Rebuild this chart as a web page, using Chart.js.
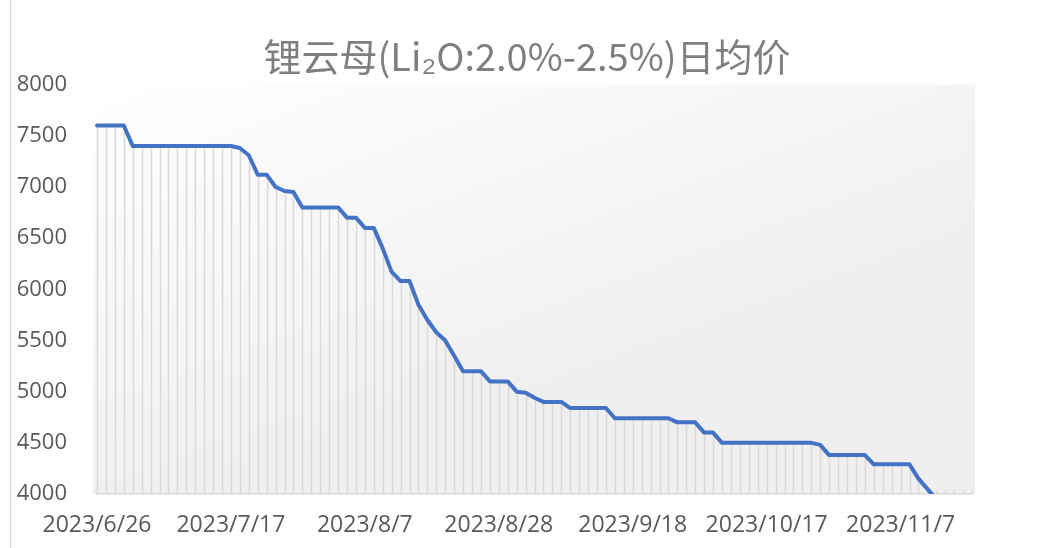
<!DOCTYPE html>
<html>
<head>
<meta charset="utf-8">
<script src="https://cdn.jsdelivr.net/npm/chart.js@4"></script>
<style>
  html, body { margin: 0; padding: 0; background: #fff; }
  #wrap { width: 1038px; height: 548px; position: relative; }
</style>
</head>
<body>
<div id="wrap"><canvas id="priceChart" width="1038" height="548"></canvas></div>
<script>
// trading days (weekdays, national holiday skipped)
const dates = [
  '2023/6/26', '2023/6/27', '2023/6/28', '2023/6/29', '2023/6/30',
  '2023/7/3', '2023/7/4', '2023/7/5', '2023/7/6', '2023/7/7',
  '2023/7/10', '2023/7/11', '2023/7/12', '2023/7/13', '2023/7/14',
  '2023/7/17', '2023/7/18', '2023/7/19', '2023/7/20', '2023/7/21',
  '2023/7/24', '2023/7/25', '2023/7/26', '2023/7/27', '2023/7/28',
  '2023/7/31', '2023/8/1', '2023/8/2', '2023/8/3', '2023/8/4',
  '2023/8/7', '2023/8/8', '2023/8/9', '2023/8/10', '2023/8/11',
  '2023/8/14', '2023/8/15', '2023/8/16', '2023/8/17', '2023/8/18',
  '2023/8/21', '2023/8/22', '2023/8/23', '2023/8/24', '2023/8/25',
  '2023/8/28', '2023/8/29', '2023/8/30', '2023/8/31', '2023/9/1',
  '2023/9/4', '2023/9/5', '2023/9/6', '2023/9/7', '2023/9/8',
  '2023/9/11', '2023/9/12', '2023/9/13', '2023/9/14', '2023/9/15',
  '2023/9/18', '2023/9/19', '2023/9/20', '2023/9/21', '2023/9/22',
  '2023/9/25', '2023/9/26', '2023/9/27', '2023/9/28',
  '2023/10/9', '2023/10/10', '2023/10/11', '2023/10/12', '2023/10/13',
  '2023/10/16', '2023/10/17', '2023/10/18', '2023/10/19', '2023/10/20',
  '2023/10/23', '2023/10/24', '2023/10/25', '2023/10/26', '2023/10/27',
  '2023/10/30', '2023/10/31', '2023/11/1', '2023/11/2', '2023/11/3',
  '2023/11/6', '2023/11/7', '2023/11/8', '2023/11/9', '2023/11/10',
  '2023/11/13', '2023/11/14', '2023/11/15', '2023/11/16', '2023/11/17'
];

const prices = [
  7600, 7600, 7600, 7600, 7400, 7400, 7400, 7400, 7400, 7400,
  7400, 7400, 7400, 7400, 7400, 7400, 7380, 7310, 7120, 7120,
  7000, 6960, 6950, 6800, 6800, 6800, 6800, 6800, 6700, 6700,
  6600, 6600, 6400, 6170, 6080, 6080, 5850, 5700, 5580, 5500,
  5350, 5200, 5200, 5200, 5100, 5100, 5100, 5000, 4990, 4940,
  4900, 4900, 4900, 4840, 4840, 4840, 4840, 4840, 4740, 4740,
  4740, 4740, 4740, 4740, 4740, 4700, 4700, 4700, 4600, 4600,
  4500, 4500, 4500, 4500, 4500, 4500, 4500, 4500, 4500, 4500,
  4500, 4480, 4380, 4380, 4380, 4380, 4380, 4290, 4290, 4290,
  4290, 4290, 4150, 4050, 3950, 3950, 3950, 3950, 3950
];

const yMin = 4000;
const yMax = 8000;
const yStep = 500;
const labelEvery = 15;

const bgPlugin = {
  id: 'bgPlugin',
  beforeDraw(chart) {
    const { ctx, chartArea: a } = chart;
    ctx.save();
    ctx.fillStyle = '#ffffff';
    ctx.fillRect(0, 0, chart.width, chart.height);
    const g = ctx.createLinearGradient(a.left, a.top, a.left + 150, a.bottom);
    g.addColorStop(0, '#ffffff');
    g.addColorStop(1, '#efefef');
    ctx.fillStyle = g;
    ctx.fillRect(a.left - 4, a.top, a.right - a.left + 7, a.bottom - a.top);
    // chart frame edge on the left
    ctx.strokeStyle = '#d9d9d9';
    ctx.lineWidth = 1.5;
    ctx.beginPath();
    ctx.moveTo(10.5, 0);
    ctx.lineTo(10.5, chart.height);
    ctx.stroke();
    ctx.restore();
  }
};

const dropLines = {
  id: 'dropLines',
  beforeDatasetsDraw(chart) {
    const { ctx, chartArea: a } = chart;
    const meta = chart.getDatasetMeta(0);
    ctx.save();
    ctx.strokeStyle = '#d9d9d9';
    ctx.lineWidth = 1.5;
    meta.data.forEach(pt => {
      const x = Math.round(pt.x) + 0.5;
      const top = pt.y >= a.bottom ? a.bottom - 4 : Math.max(pt.y, a.top);
      ctx.beginPath();
      ctx.moveTo(x, top);
      ctx.lineTo(x, a.bottom);
      ctx.stroke();
    });
    ctx.restore();
  }
};

const ctx = document.getElementById('priceChart').getContext('2d');
new Chart(ctx, {
  type: 'line',
  data: {
    labels: dates,
    datasets: [{
      label: '日均价',
      data: prices,
      borderColor: '#4472C4',
      borderWidth: 4,
      borderJoinStyle: 'round',
      borderCapStyle: 'round',
      pointRadius: 0,
      tension: 0,
      fill: false,
      clip: { left: 5, right: 5, top: 5, bottom: 0 }
    }]
  },
  options: {
    responsive: false,
    animation: false,
    devicePixelRatio: 1,
    layout: { padding: { left: 16, right: 0, top: 34, bottom: 0 } },
    plugins: {
      legend: { display: false },
      tooltip: { enabled: false },
      title: {
        display: true,
        text: '锂云母(Li₂O:2.0%-2.5%)日均价',
        color: '#7f7f7f',
        font: { family: "'Noto Sans CJK SC', sans-serif", size: 38, weight: 'normal' },
        padding: { top: 0, bottom: 5 }
      }
    },
    scales: {
      x: {
        grid: { display: false, drawTicks: false },
        border: { display: true, color: '#d9d9d9', width: 1.5 },
        ticks: {
          autoSkip: false,
          maxRotation: 0,
          minRotation: 0,
          padding: 18,
          color: '#595959',
          font: { family: "'Open Sans', sans-serif", size: 23 },
          callback: function (val, i) { return i % labelEvery === 0 ? dates[i] : ''; }
        },
        afterFit: scale => { scale.height = 54; }
      },
      y: {
        min: yMin,
        max: yMax,
        grid: { display: false, drawTicks: false },
        border: { display: false },
        ticks: {
          stepSize: yStep,
          padding: 30,
          color: '#595959',
          font: { family: "'Open Sans', sans-serif", size: 22 },
          callback: v => String(v)
        },
        afterFit: scale => { scale.width = 81; }
      },
      yRight: {
        position: 'right',
        min: yMin,
        max: yMax,
        grid: { display: false, drawTicks: false },
        border: { display: false },
        ticks: { display: false },
        afterFit: scale => { scale.width = 66; }
      }
    }
  },
  plugins: [bgPlugin, dropLines]
});
</script>
</body>
</html>
